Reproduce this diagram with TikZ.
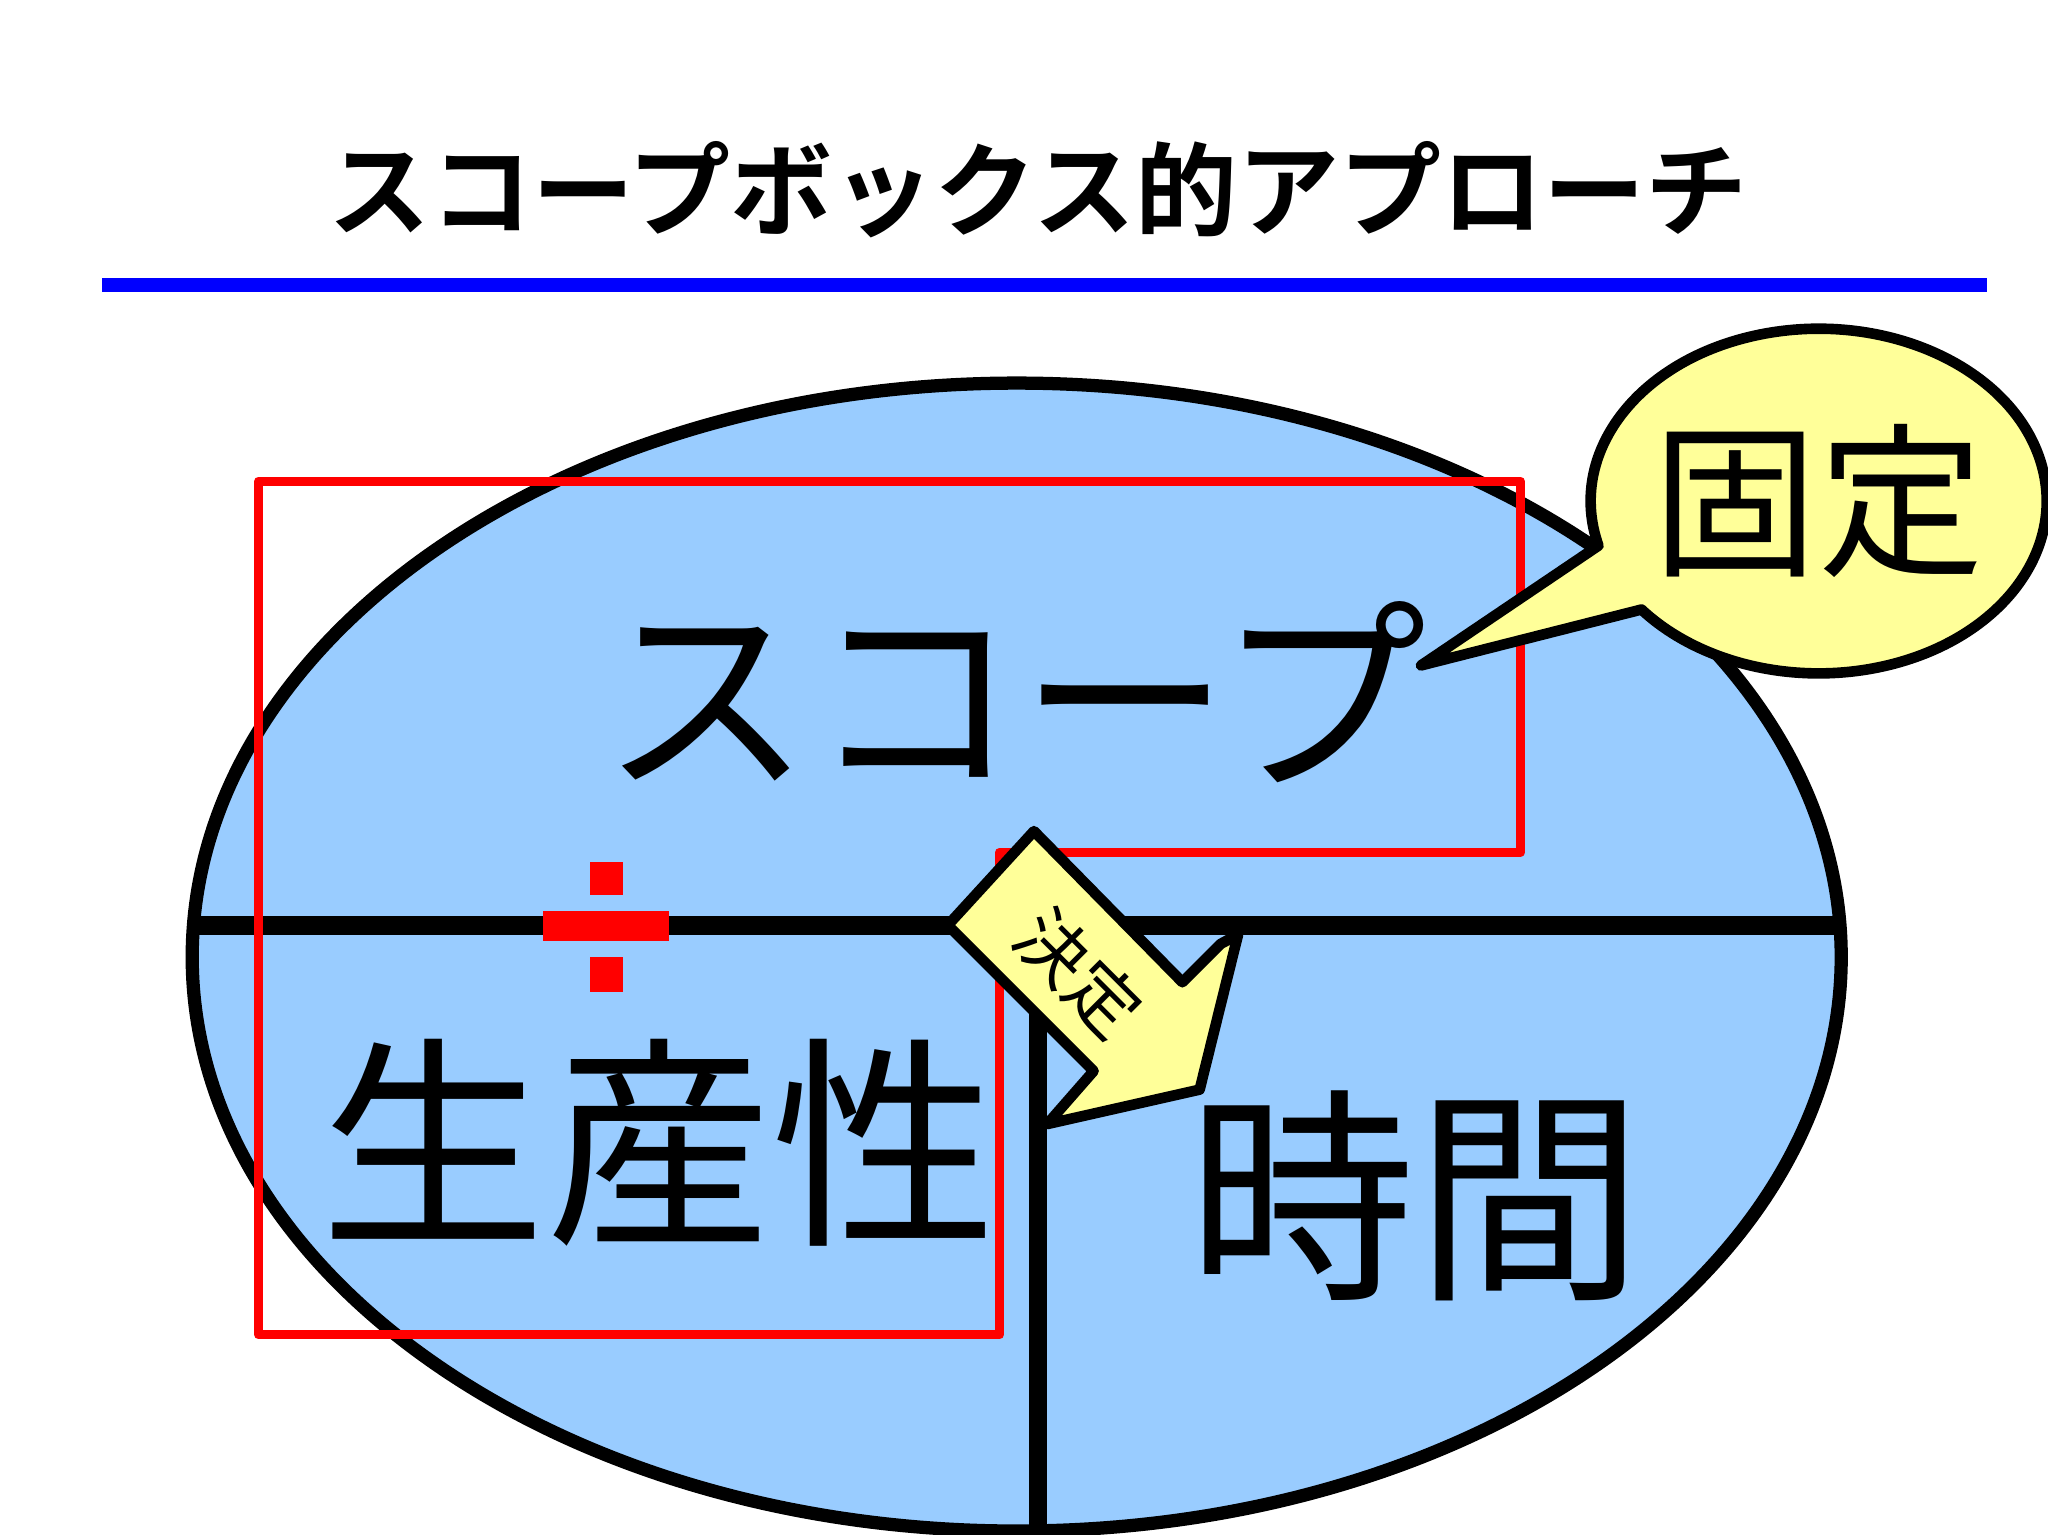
\documentclass[tikz,border=0pt]{standalone}
\usepackage{fontspec}
\usetikzlibrary{shapes.geometric,calc}
\newfontfamily\jp{Noto Sans CJK JP}
\newfontfamily\jpb{Noto Sans CJK JP Bold}
\definecolor{skyb}{RGB}{153,204,255}
\definecolor{lyel}{RGB}{255,255,153}
\begin{document}
\begin{tikzpicture}[x=1pt,y=-1pt,
  blk/.style={draw=black,line width=9pt,line join=round},
  redl/.style={draw=red,line width=7pt,line join=round},
  big/.style={font=\jp\fontsize{150}{150}\selectfont,inner sep=0pt}]
\useasboundingbox (0,0) rectangle (1545,1158);
\node[font=\jpb\fontsize{77}{77}\selectfont,inner sep=0pt] (title) at (783,143) {スコープボックス的アプローチ};
\draw[blue,line width=10pt] (77,215) -- (1499,215);
\node[ellipse,draw=black,fill=skyb,line width=10pt,minimum width=1244pt,minimum height=866pt,inner sep=0pt] (ell) at (767,722) {};
\draw[black,line width=14pt] (148,698) -- (1385,698);
\draw[black,line width=14pt] (783,698) -- (783,1153);
\draw[redl] (195,363) -- (1147,363) -- (1147,643) -- (754,643) -- (754,1007) -- (195,1007) -- cycle;
\fill[red] (410,687) rectangle (505,710);
\fill[red] (445,650) rectangle (470,675);
\fill[red] (445,722) rectangle (470,748);
\node[big,font=\jp\fontsize{158}{158}\selectfont] (scope) at (765,522) {スコープ};
\node[big,font=\jp\fontsize{170}{170}\selectfont] (prod) at (497,862) {生産性};
\node[big,font=\jp\fontsize{172}{172}\selectfont] (time) at (1068,902) {時間};
\draw[blk,fill=lyel,line width=8pt] (1072,502) -- ($(1372,378)+(165:172 and 130)$)
  arc[start angle=165,end angle=501,x radius=172,y radius=130] -- cycle;
\node[inner sep=0pt,font=\jp\fontsize{125}{125}\selectfont] (fix) at (1372,378) {固定};
\draw[blk,fill=lyel,line width=8pt] (780,627) -- (892,741) -- (921,712) -- (934,705) -- (905,822) -- (790,848) -- (825,808) -- (715,698) -- cycle;
\node[inner sep=0pt,rotate=-45,font=\jp\fontsize{54}{54}\selectfont] (dec) at (814,734) {決定};
\end{tikzpicture}
\end{document}
